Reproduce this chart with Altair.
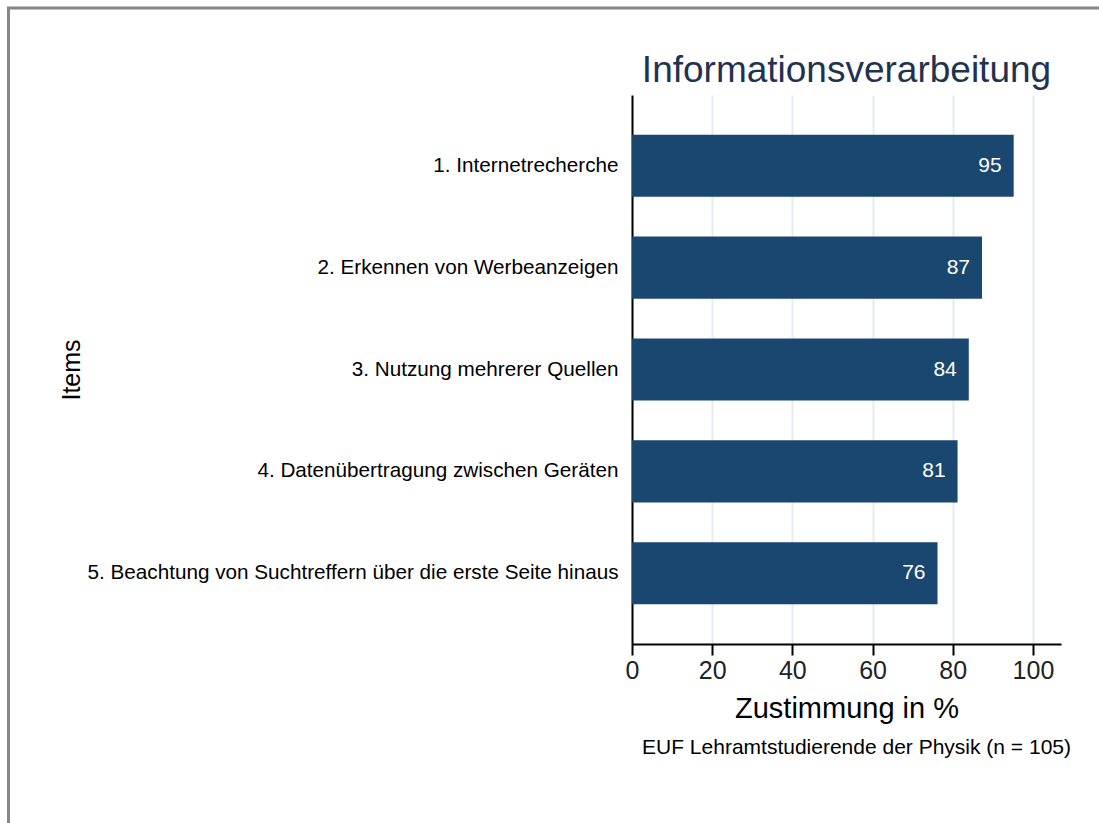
import altair as alt
import pandas as pd

items = [
    "1. Internetrecherche",
    "2. Erkennen von Werbeanzeigen",
    "3. Nutzung mehrerer Quellen",
    "4. Datenübertragung zwischen Geräten",
    "5. Beachtung von Suchtreffern über die erste Seite hinaus",
]
values = [95.2, 87.3, 84.0, 81.2, 76.2]
x_ticks = [0, 20, 40, 60, 80, 100]

title_text = "Informationsverarbeitung"
x_title = "Zustimmung in %"
y_title = "Items"
note_text = "EUF Lehramtstudierende der Physik (n = 105)"

df = pd.DataFrame({"item": items, "value": values})

FONT = "Liberation Sans"
BAR = "#1a476f"
W, H = 429, 549
LEFT, TOP = 632, 95

x_enc = alt.X(
    "value:Q",
    scale=alt.Scale(domain=[0, 107], nice=False, zero=True),
    axis=alt.Axis(
        values=x_ticks,
        title=x_title,
        titleFontSize=29,
        titleFont=FONT,
        titleFontWeight="normal",
        titleColor="#000000",
        titleX=W / 2,
        titleY=73,
        titleBaseline="alphabetic",
        titleAlign="center",
        labelFontSize=25,
        labelFont=FONT,
        labelColor="#222222",
        labelPadding=3,
        labelFlush=False,
        tickSize=11,
        tickColor="#000000",
        tickWidth=2,
        domainColor="#000000",
        domainWidth=2,
        grid=True,
        gridColor="#e6ecef",
        gridWidth=2,
    ),
)
y_enc = alt.Y(
    "item:N",
    sort=items,
    scale=alt.Scale(paddingInner=0.39, paddingOuter=0.39),
    axis=alt.Axis(
        title=y_title,
        titleFontSize=25,
        titleFont=FONT,
        titleFontWeight="normal",
        titleColor="#000000",
        titleX=71 - LEFT,
        titleY=H / 2,
        titleAngle=270,
        titleAlign="center",
        titleBaseline="middle",
        labelFontSize=20.7,
        labelFont=FONT,
        labelColor="#000000",
        labelPadding=14,
        ticks=False,
        tickSize=0,
        domainColor="#000000",
        domainWidth=2,
        grid=False,
        labelLimit=700,
    ),
)

bars = alt.Chart(df).mark_bar(color=BAR).encode(x=x_enc, y=y_enc)

labels = alt.Chart(df).mark_text(
    align="right", baseline="middle", dx=-12, color="#ffffff", fontSize=21, font=FONT
).encode(
    x=alt.X("value:Q"),
    y=alt.Y("item:N", sort=items),
    text=alt.Text("value:Q", format=".0f"),
)

title_mark = alt.Chart(pd.DataFrame({"t": [title_text]})).mark_text(
    align="center", baseline="alphabetic", fontSize=37, font=FONT, color="#1f3350"
).encode(
    x=alt.value(W / 2),
    y=alt.value(82 - TOP),
    text="t:N",
)

note = alt.Chart(pd.DataFrame({"t": [note_text]})).mark_text(
    align="center", baseline="alphabetic", fontSize=21, font=FONT, color="#000000"
).encode(
    x=alt.value(856.5 - LEFT),
    y=alt.value(754 - TOP),
    text="t:N",
)

frame_left = alt.Chart(pd.DataFrame({"k": [0]})).mark_rule(
    color="#878787", strokeWidth=3
).encode(
    x=alt.value(8.5 - LEFT),
    y=alt.value(7 - TOP),
    y2=alt.value(823 - TOP + 5),
)
frame_top = alt.Chart(pd.DataFrame({"k": [0]})).mark_rule(
    color="#878787", strokeWidth=3
).encode(
    x=alt.value(7 - LEFT),
    x2=alt.value(1099 - LEFT + 5),
    y=alt.value(8 - TOP),
)

chart = (
    alt.layer(bars, labels, title_mark, note, frame_left, frame_top)
    .properties(
        width=W,
        height=H,
        padding={"left": LEFT, "top": TOP, "right": 1099 - LEFT - W, "bottom": 823 - TOP - H},
        autosize=alt.AutoSizeParams(type="none"),
        background="#ffffff",
    )
    .configure_view(stroke=None)
)

chart.save("out.html", embed_options={"renderer": "svg", "actions": False})
